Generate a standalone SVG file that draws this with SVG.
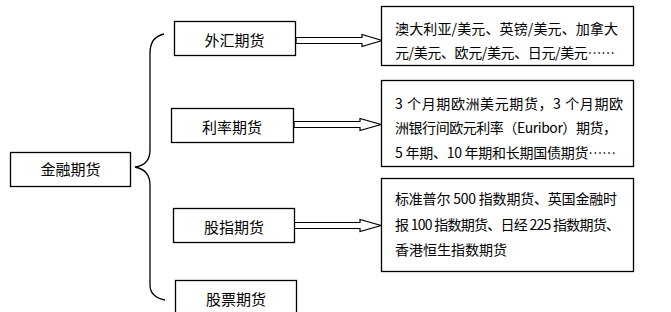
<svg xmlns="http://www.w3.org/2000/svg" width="671" height="312" viewBox="0 0 671 312">
<style>
rect{fill:#fff;stroke:#000;stroke-width:1.3}
.c{font-family:"Noto Sans CJK SC","Noto Sans",sans-serif;font-size:15px;fill:#000;text-anchor:middle}
.t{font-family:"Noto Sans CJK SC","Noto Sans",sans-serif;font-size:14px;fill:#000}
.ar{fill:#fff;stroke:#000;stroke-width:1.2;stroke-linejoin:miter}
.br{fill:none;stroke:#000;stroke-width:1.3}
</style>
<rect x="0" y="0" width="671" height="312" style="stroke:none;fill:#fff"/>
<g id="connectors">
<path class="br" d="M164,34 Q150,37 150,53 L150,150 Q150,165 135,167 Q150,170 150,185 L150,285 Q150,297 165,300"/>
<polygon class="ar" points="296,37.5 362,37.5 362,34.5 382,40.5 362,46.5 362,43.5 296,43.5"/>
<polygon class="ar" points="294,121.5 360,121.5 360,118.5 381,124.5 360,130.5 360,127.5 294,127.5"/>
<polygon class="ar" points="294,222.5 360,222.5 360,219.5 381,225.5 360,231.5 360,228.5 294,228.5"/>
</g>
<g id="n-jrqh"><rect x="10.5" y="152.5" width="120" height="34"/><text class="c" x="70.5" y="175">金融期货</text></g>
<g id="n-whqh"><rect x="174.5" y="21.5" width="121" height="34"/><text class="c" x="234.5" y="46">外汇期货</text></g>
<g id="n-llqh"><rect x="171.5" y="108.5" width="122" height="34"/><text class="c" x="232" y="133">利率期货</text></g>
<g id="n-gzqh"><rect x="173.5" y="208.5" width="121" height="34"/><text class="c" x="234" y="233">股指期货</text></g>
<g id="n-gpqh"><rect x="175.5" y="280.5" width="121" height="40"/><text class="c" x="236" y="305">股票期货</text></g>
<g id="n-wh"><rect x="381.5" y="6.5" width="252" height="59"/>
<text class="t" x="395" y="34" textLength="223" lengthAdjust="spacing">澳大利亚/美元、英镑/美元、加拿大</text>
<text class="t" x="395" y="58" textLength="220" lengthAdjust="spacing">元/美元、欧元/美元、日元/美元……</text></g>
<g id="n-ll"><rect x="381.5" y="80.5" width="252" height="86"/>
<text class="t" x="395" y="109" textLength="228" lengthAdjust="spacing">3 个月期欧洲美元期货，3 个月期欧</text>
<text class="t" x="395" y="133" textLength="222" lengthAdjust="spacing">洲银行间欧元利率（Euribor）期货，</text>
<text class="t" x="395" y="158" textLength="221" lengthAdjust="spacing">5 年期、10 年期和长期国债期货……</text></g>
<g id="n-gz"><rect x="381.5" y="178.5" width="252" height="93"/>
<text class="t" x="395" y="204" textLength="222" lengthAdjust="spacing">标准普尔 500 指数期货、英国金融时</text>
<text class="t" x="395" y="230" textLength="225" lengthAdjust="spacing">报 100 指数期货、日经 225 指数期货、</text>
<text class="t" x="395" y="255">香港恒生指数期货</text></g>
</svg>
